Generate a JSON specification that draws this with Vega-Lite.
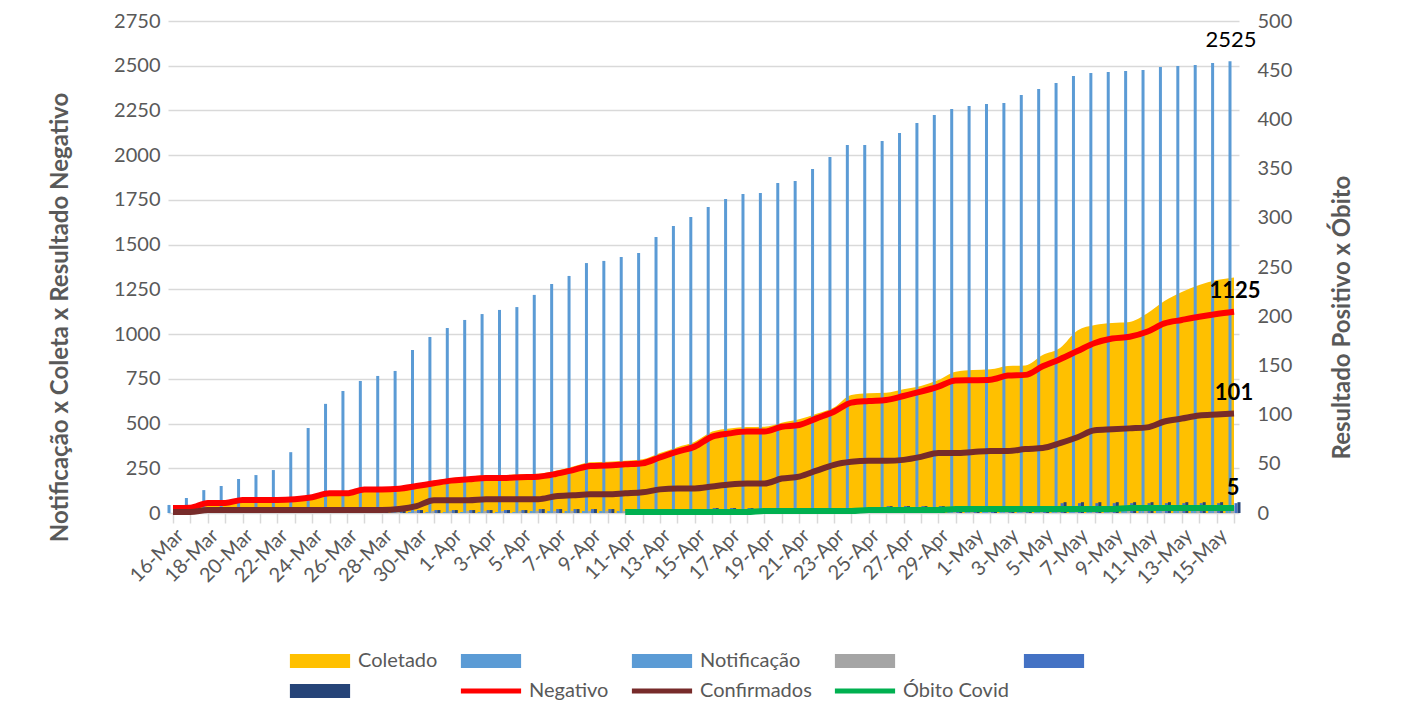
{
  "$schema": "https://vega.github.io/schema/vega-lite/v6.json",
  "width": 1071,
  "height": 492,
  "autosize": {"type": "none"},
  "padding": {"left": 168, "top": 21, "right": 164, "bottom": 195},
  "background": "white",
  "config": {
    "font": "Lato",
    "view": {"stroke": null},
    "axis": {"labelFont": "Lato", "titleFont": "Lato", "labelColor": "#595959", "titleColor": "#595959", "labelFontSize": 20, "titleFontSize": 24, "titleFontWeight": "bold"}
  },
  "data": {
    "values": [
      {"d": "2020-03-16", "notif": 45, "col": 35, "neg": 28, "conf": 1, "ob": null, "s2": 0, "s4": 0, "s5": 1, "s6": 1},
      {"d": "2020-03-17", "notif": 84, "col": 38, "neg": 30, "conf": 1, "ob": null, "s2": 0, "s4": 0, "s5": 1, "s6": 1},
      {"d": "2020-03-18", "notif": 128, "col": 62, "neg": 56, "conf": 3, "ob": null, "s2": 0, "s4": 0, "s5": 1, "s6": 1},
      {"d": "2020-03-19", "notif": 151, "col": 63, "neg": 56, "conf": 3, "ob": null, "s2": 0, "s4": 0, "s5": 1, "s6": 1},
      {"d": "2020-03-20", "notif": 190, "col": 80, "neg": 73, "conf": 3, "ob": null, "s2": 0, "s4": 0, "s5": 1, "s6": 1},
      {"d": "2020-03-21", "notif": 212, "col": 80, "neg": 73, "conf": 3, "ob": null, "s2": 0, "s4": 0, "s5": 1, "s6": 1},
      {"d": "2020-03-22", "notif": 240, "col": 81, "neg": 73, "conf": 3, "ob": null, "s2": 0, "s4": 0, "s5": 1, "s6": 1},
      {"d": "2020-03-23", "notif": 340, "col": 85, "neg": 77, "conf": 3, "ob": null, "s2": 0, "s4": 0, "s5": 1, "s6": 1},
      {"d": "2020-03-24", "notif": 475, "col": 96, "neg": 88, "conf": 3, "ob": null, "s2": 0, "s4": 1, "s5": 2, "s6": 2},
      {"d": "2020-03-25", "notif": 610, "col": 118, "neg": 110, "conf": 3, "ob": null, "s2": 0, "s4": 1, "s5": 2, "s6": 2},
      {"d": "2020-03-26", "notif": 682, "col": 119, "neg": 110, "conf": 3, "ob": null, "s2": 0, "s4": 1, "s5": 2, "s6": 2},
      {"d": "2020-03-27", "notif": 738, "col": 140, "neg": 132, "conf": 3, "ob": null, "s2": 0, "s4": 1, "s5": 2, "s6": 2},
      {"d": "2020-03-28", "notif": 766, "col": 141, "neg": 132, "conf": 3, "ob": null, "s2": 0, "s4": 1, "s5": 2, "s6": 2},
      {"d": "2020-03-29", "notif": 794, "col": 145, "neg": 136, "conf": 4, "ob": null, "s2": 1, "s4": 2, "s5": 3, "s6": 3},
      {"d": "2020-03-30", "notif": 911, "col": 162, "neg": 151, "conf": 7, "ob": null, "s2": 1, "s4": 2, "s5": 3, "s6": 3},
      {"d": "2020-03-31", "notif": 984, "col": 180, "neg": 166, "conf": 13, "ob": null, "s2": 1, "s4": 2, "s5": 3, "s6": 3},
      {"d": "2020-04-01", "notif": 1034, "col": 196, "neg": 181, "conf": 13, "ob": null, "s2": 1, "s4": 2, "s5": 3, "s6": 3},
      {"d": "2020-04-02", "notif": 1079, "col": 203, "neg": 188, "conf": 13, "ob": null, "s2": 1, "s4": 2, "s5": 3, "s6": 3},
      {"d": "2020-04-03", "notif": 1112, "col": 212, "neg": 196, "conf": 14, "ob": null, "s2": 1, "s4": 2, "s5": 3, "s6": 3},
      {"d": "2020-04-04", "notif": 1135, "col": 212, "neg": 196, "conf": 14, "ob": null, "s2": 1, "s4": 2, "s5": 3, "s6": 3},
      {"d": "2020-04-05", "notif": 1151, "col": 216, "neg": 200, "conf": 14, "ob": null, "s2": 1, "s4": 2, "s5": 3, "s6": 3},
      {"d": "2020-04-06", "notif": 1219, "col": 219, "neg": 203, "conf": 14, "ob": null, "s2": 2, "s4": 2, "s5": 4, "s6": 4},
      {"d": "2020-04-07", "notif": 1280, "col": 236, "neg": 218, "conf": 17, "ob": null, "s2": 2, "s4": 2, "s5": 4, "s6": 4},
      {"d": "2020-04-08", "notif": 1325, "col": 260, "neg": 240, "conf": 18, "ob": null, "s2": 2, "s4": 2, "s5": 4, "s6": 4},
      {"d": "2020-04-09", "notif": 1397, "col": 283, "neg": 263, "conf": 19, "ob": null, "s2": 2, "s4": 2, "s5": 4, "s6": 4},
      {"d": "2020-04-10", "notif": 1409, "col": 286, "neg": 266, "conf": 19, "ob": null, "s2": 2, "s4": 2, "s5": 4, "s6": 4},
      {"d": "2020-04-11", "notif": 1431, "col": 292, "neg": 272, "conf": 20, "ob": 1, "s2": 2, "s4": 2, "s5": 4, "s6": 4},
      {"d": "2020-04-12", "notif": 1453, "col": 300, "neg": 278, "conf": 21, "ob": 1, "s2": 2, "s4": 2, "s5": 4, "s6": 4},
      {"d": "2020-04-13", "notif": 1543, "col": 335, "neg": 311, "conf": 24, "ob": 1, "s2": 2, "s4": 2, "s5": 4, "s6": 4},
      {"d": "2020-04-14", "notif": 1604, "col": 368, "neg": 343, "conf": 25, "ob": 1, "s2": 2, "s4": 2, "s5": 4, "s6": 4},
      {"d": "2020-04-15", "notif": 1655, "col": 398, "neg": 371, "conf": 25, "ob": 1, "s2": 2, "s4": 2, "s5": 4, "s6": 4},
      {"d": "2020-04-16", "notif": 1710, "col": 455, "neg": 427, "conf": 27, "ob": 1, "s2": 2, "s4": 3, "s5": 5, "s6": 5},
      {"d": "2020-04-17", "notif": 1755, "col": 473, "neg": 445, "conf": 29, "ob": 1, "s2": 2, "s4": 3, "s5": 5, "s6": 5},
      {"d": "2020-04-18", "notif": 1783, "col": 480, "neg": 455, "conf": 30, "ob": 1, "s2": 2, "s4": 3, "s5": 5, "s6": 5},
      {"d": "2020-04-19", "notif": 1789, "col": 482, "neg": 455, "conf": 30, "ob": 2, "s2": 2, "s4": 3, "s5": 5, "s6": 5},
      {"d": "2020-04-20", "notif": 1845, "col": 505, "neg": 482, "conf": 35, "ob": 2, "s2": 2, "s4": 3, "s5": 5, "s6": 5},
      {"d": "2020-04-21", "notif": 1856, "col": 524, "neg": 492, "conf": 37, "ob": 2, "s2": 2, "s4": 3, "s5": 5, "s6": 5},
      {"d": "2020-04-22", "notif": 1923, "col": 555, "neg": 529, "conf": 43, "ob": 2, "s2": 2, "s4": 3, "s5": 5, "s6": 5},
      {"d": "2020-04-23", "notif": 1990, "col": 590, "neg": 566, "conf": 49, "ob": 2, "s2": 2, "s4": 3, "s5": 5, "s6": 5},
      {"d": "2020-04-24", "notif": 2057, "col": 660, "neg": 617, "conf": 52, "ob": 2, "s2": 2, "s4": 3, "s5": 5, "s6": 5},
      {"d": "2020-04-25", "notif": 2057, "col": 669, "neg": 626, "conf": 53, "ob": 3, "s2": 2, "s4": 3, "s5": 5, "s6": 5},
      {"d": "2020-04-26", "notif": 2079, "col": 672, "neg": 632, "conf": 53, "ob": 3, "s2": 3, "s4": 4, "s5": 7, "s6": 7},
      {"d": "2020-04-27", "notif": 2124, "col": 691, "neg": 654, "conf": 54, "ob": 3, "s2": 3, "s4": 4, "s5": 7, "s6": 7},
      {"d": "2020-04-28", "notif": 2180, "col": 710, "neg": 678, "conf": 57, "ob": 3, "s2": 3, "s4": 4, "s5": 7, "s6": 7},
      {"d": "2020-04-29", "notif": 2225, "col": 743, "neg": 706, "conf": 61, "ob": 3, "s2": 3, "s4": 4, "s5": 7, "s6": 7},
      {"d": "2020-04-30", "notif": 2258, "col": 790, "neg": 740, "conf": 61, "ob": 4, "s2": 3, "s4": 4, "s5": 7, "s6": 7},
      {"d": "2020-05-01", "notif": 2275, "col": 799, "neg": 742, "conf": 62, "ob": 4, "s2": 3, "s4": 4, "s5": 7, "s6": 7},
      {"d": "2020-05-02", "notif": 2286, "col": 803, "neg": 745, "conf": 63, "ob": 4, "s2": 3, "s4": 4, "s5": 7, "s6": 7},
      {"d": "2020-05-03", "notif": 2292, "col": 822, "neg": 768, "conf": 63, "ob": 4, "s2": 3, "s4": 4, "s5": 7, "s6": 7},
      {"d": "2020-05-04", "notif": 2337, "col": 825, "neg": 772, "conf": 65, "ob": 4, "s2": 3, "s4": 4, "s5": 7, "s6": 7},
      {"d": "2020-05-05", "notif": 2370, "col": 883, "neg": 820, "conf": 66, "ob": 4, "s2": 3, "s4": 4, "s5": 7, "s6": 7},
      {"d": "2020-05-06", "notif": 2404, "col": 922, "neg": 860, "conf": 71, "ob": 4, "s2": 4, "s4": 7, "s5": 10, "s6": 11},
      {"d": "2020-05-07", "notif": 2443, "col": 1020, "neg": 905, "conf": 77, "ob": 4, "s2": 4, "s4": 7, "s5": 10, "s6": 11},
      {"d": "2020-05-08", "notif": 2460, "col": 1051, "neg": 950, "conf": 84, "ob": 4, "s2": 4, "s4": 7, "s5": 10, "s6": 11},
      {"d": "2020-05-09", "notif": 2465, "col": 1062, "neg": 975, "conf": 85, "ob": 4, "s2": 4, "s4": 7, "s5": 10, "s6": 11},
      {"d": "2020-05-10", "notif": 2471, "col": 1068, "neg": 985, "conf": 86, "ob": 5, "s2": 4, "s4": 7, "s5": 10, "s6": 11},
      {"d": "2020-05-11", "notif": 2476, "col": 1115, "neg": 1013, "conf": 87, "ob": 5, "s2": 4, "s4": 7, "s5": 10, "s6": 11},
      {"d": "2020-05-12", "notif": 2493, "col": 1185, "neg": 1060, "conf": 93, "ob": 5, "s2": 4, "s4": 7, "s5": 10, "s6": 11},
      {"d": "2020-05-13", "notif": 2499, "col": 1235, "neg": 1079, "conf": 96, "ob": 5, "s2": 4, "s4": 7, "s5": 10, "s6": 11},
      {"d": "2020-05-14", "notif": 2504, "col": 1275, "neg": 1097, "conf": 99, "ob": 5, "s2": 4, "s4": 7, "s5": 10, "s6": 11},
      {"d": "2020-05-15", "notif": 2515, "col": 1302, "neg": 1112, "conf": 100, "ob": 5, "s2": 4, "s4": 7, "s5": 10, "s6": 11},
      {"d": "2020-05-16", "notif": 2525, "col": 1317, "neg": 1125, "conf": 101, "ob": 5, "s2": 4, "s4": 7, "s5": 10, "s6": 11}
    ]
  },
  "layer": [
    {
      "layer": [
        {
          "mark": {"type": "area", "color": "#FFC000", "interpolate": "monotone"},
          "encoding": {
            "x": {"field": "d", "type": "temporal", "title": null,
              "scale": {"type": "utc", "domain": [1584316800000, 1589587200000], "nice": false},
              "axis": {"format": "%-d-%b", "tickCount": {"interval": "day", "step": 1}, "labelExpr": "round((datum.value - 1584316800000) / 86400000) % 2 == 0 ? datum.label : ''", "labelAngle": -45, "labelAlign": "right", "labelBaseline": "top", "labelOverlap": false, "labelFlush": false, "labelBound": false, "labelPadding": 2, "grid": false, "domain": false, "ticks": true, "tickSize": 10, "tickColor": "#D9D9D9", "tickWidth": 1.5}},
            "y": {"field": "col", "type": "quantitative", "title": "Notificação x Coleta x Resultado Negativo",
              "scale": {"domain": [0, 2750], "nice": false},
              "axis": {"values": [0, 250, 500, 750, 1000, 1250, 1500, 1750, 2000, 2250, 2500, 2750], "format": "d", "ticks": false, "domain": false, "grid": true, "gridColor": "#D9D9D9", "gridWidth": 1.5, "labelPadding": 8, "titleX": -108, "titleY": 296, "titleAngle": -90, "titleBaseline": "middle", "titleAlign": "center"}},
            "color": {"datum": "Coletado", "type": "nominal",
              "scale": {"domain": ["Coletado", "s2", "Notificação", "s4", "s5", "s6", "Negativo", "Confirmados", "Óbito Covid"],
                        "range": ["#FFC000", "#5B9BD5", "#5B9BD5", "#A5A5A5", "#4472C4", "#264478", "#FF0000", "#772B2A", "#00B050"]},
              "legend": {
                "orient": "none", "legendX": 119, "legendY": 630, "direction": "horizontal", "columns": 5,
                "columnPadding": 12, "rowPadding": 10, "symbolSize": 196, "symbolOffset": 23, "labelOffset": 28,
                "labelFontSize": 20, "labelFont": "Lato", "labelColor": "#595959", "title": null, "padding": 0,
                "labelExpr": "indexof(['s2','s4','s5','s6'], datum.value) >= 0 ? '' : datum.label",
                "encode": {"symbols": {"update": {
                  "shape": {"signal": "indexof(['Negativo','Confirmados','Óbito Covid'], datum.value) >= 0 ? 'M-4.3,0H4.3' : 'M-4.3,-1H4.3V1H-4.3Z'"},
                  "fill": {"signal": "indexof(['Negativo','Confirmados','Óbito Covid'], datum.value) >= 0 ? 'transparent' : scale('color', datum.value)"},
                  "stroke": {"signal": "scale('color', datum.value)"},
                  "strokeWidth": {"signal": "indexof(['Negativo','Confirmados','Óbito Covid'], datum.value) >= 0 ? 5 : 0"},
                  "opacity": {"value": 1}
                }}}
              }}
          }
        },
        {
          "mark": {"type": "bar", "size": 3, "xOffset": -4},
          "encoding": {
            "x": {"field": "d", "type": "temporal", "title": null},
            "y": {"field": "notif", "type": "quantitative", "title": "Notificação x Coleta x Resultado Negativo"},
            "color": {"datum": "Notificação", "type": "nominal"}
          }
        },
        {
          "mark": {"type": "line", "strokeWidth": 6, "interpolate": "monotone"},
          "encoding": {
            "x": {"field": "d", "type": "temporal", "title": null},
            "y": {"field": "neg", "type": "quantitative", "title": "Notificação x Coleta x Resultado Negativo"},
            "color": {"datum": "Negativo", "type": "nominal"}
          }
        },
        {
          "transform": [{"filter": "datum.notif === 2525"}],
          "mark": {"type": "text", "dy": -21, "dx": -3, "fontSize": 22, "font": "Lato", "color": "black"},
          "encoding": {
            "x": {"field": "d", "type": "temporal", "title": null},
            "y": {"field": "notif", "type": "quantitative", "title": "Notificação x Coleta x Resultado Negativo"},
            "text": {"field": "notif", "type": "quantitative"}
          }
        },
        {
          "transform": [{"filter": "datum.notif === 2525"}],
          "mark": {"type": "text", "dy": -21, "dx": 1, "fontSize": 22, "font": "Lato", "fontWeight": "bold", "color": "black"},
          "encoding": {
            "x": {"field": "d", "type": "temporal", "title": null},
            "y": {"field": "neg", "type": "quantitative", "title": "Notificação x Coleta x Resultado Negativo"},
            "text": {"field": "neg", "type": "quantitative"}
          }
        }
      ]
    },
    {
      "layer": [
        {
          "mark": {"type": "bar", "size": 3, "xOffset": -7},
          "encoding": {
            "x": {"field": "d", "type": "temporal", "title": null},
            "y": {"field": "s2", "type": "quantitative", "title": "Resultado Positivo x Óbito",
              "scale": {"domain": [0, 500], "nice": false},
              "axis": {"orient": "right", "values": [0, 50, 100, 150, 200, 250, 300, 350, 400, 450, 500], "ticks": false, "domain": false, "grid": false, "labelPadding": 18, "titleX": 103, "titleY": 296, "titleAngle": -90, "titleBaseline": "middle", "titleAlign": "center"}},
            "color": {"datum": "s2", "type": "nominal"}
          }
        },
        {
          "mark": {"type": "bar", "size": 3, "xOffset": -1},
          "encoding": {
            "x": {"field": "d", "type": "temporal", "title": null},
            "y": {"field": "s4", "type": "quantitative", "title": "Resultado Positivo x Óbito"},
            "color": {"datum": "s4", "type": "nominal"}
          }
        },
        {
          "mark": {"type": "bar", "size": 3, "xOffset": 2},
          "encoding": {
            "x": {"field": "d", "type": "temporal", "title": null},
            "y": {"field": "s5", "type": "quantitative", "title": "Resultado Positivo x Óbito"},
            "color": {"datum": "s5", "type": "nominal"}
          }
        },
        {
          "mark": {"type": "bar", "size": 3, "xOffset": 5},
          "encoding": {
            "x": {"field": "d", "type": "temporal", "title": null},
            "y": {"field": "s6", "type": "quantitative", "title": "Resultado Positivo x Óbito"},
            "color": {"datum": "s6", "type": "nominal"}
          }
        },
        {
          "mark": {"type": "line", "strokeWidth": 6, "interpolate": "monotone"},
          "encoding": {
            "x": {"field": "d", "type": "temporal", "title": null},
            "y": {"field": "conf", "type": "quantitative", "title": "Resultado Positivo x Óbito"},
            "color": {"datum": "Confirmados", "type": "nominal"}
          }
        },
        {
          "mark": {"type": "line", "strokeWidth": 6, "interpolate": "monotone"},
          "encoding": {
            "x": {"field": "d", "type": "temporal", "title": null},
            "y": {"field": "ob", "type": "quantitative", "title": "Resultado Positivo x Óbito"},
            "color": {"datum": "Óbito Covid", "type": "nominal"}
          }
        },
        {
          "transform": [{"filter": "datum.notif === 2525"}],
          "mark": {"type": "text", "dy": -21, "fontSize": 22, "font": "Lato", "fontWeight": "bold", "color": "black"},
          "encoding": {
            "x": {"field": "d", "type": "temporal", "title": null},
            "y": {"field": "conf", "type": "quantitative", "title": "Resultado Positivo x Óbito"},
            "text": {"field": "conf", "type": "quantitative"}
          }
        },
        {
          "transform": [{"filter": "datum.notif === 2525"}],
          "mark": {"type": "text", "dy": -20, "dx": -1, "fontSize": 22, "font": "Lato", "fontWeight": "bold", "color": "black"},
          "encoding": {
            "x": {"field": "d", "type": "temporal", "title": null},
            "y": {"field": "ob", "type": "quantitative", "title": "Resultado Positivo x Óbito"},
            "text": {"field": "ob", "type": "quantitative"}
          }
        }
      ]
    }
  ],
  "resolve": {"scale": {"y": "independent"}}
}
